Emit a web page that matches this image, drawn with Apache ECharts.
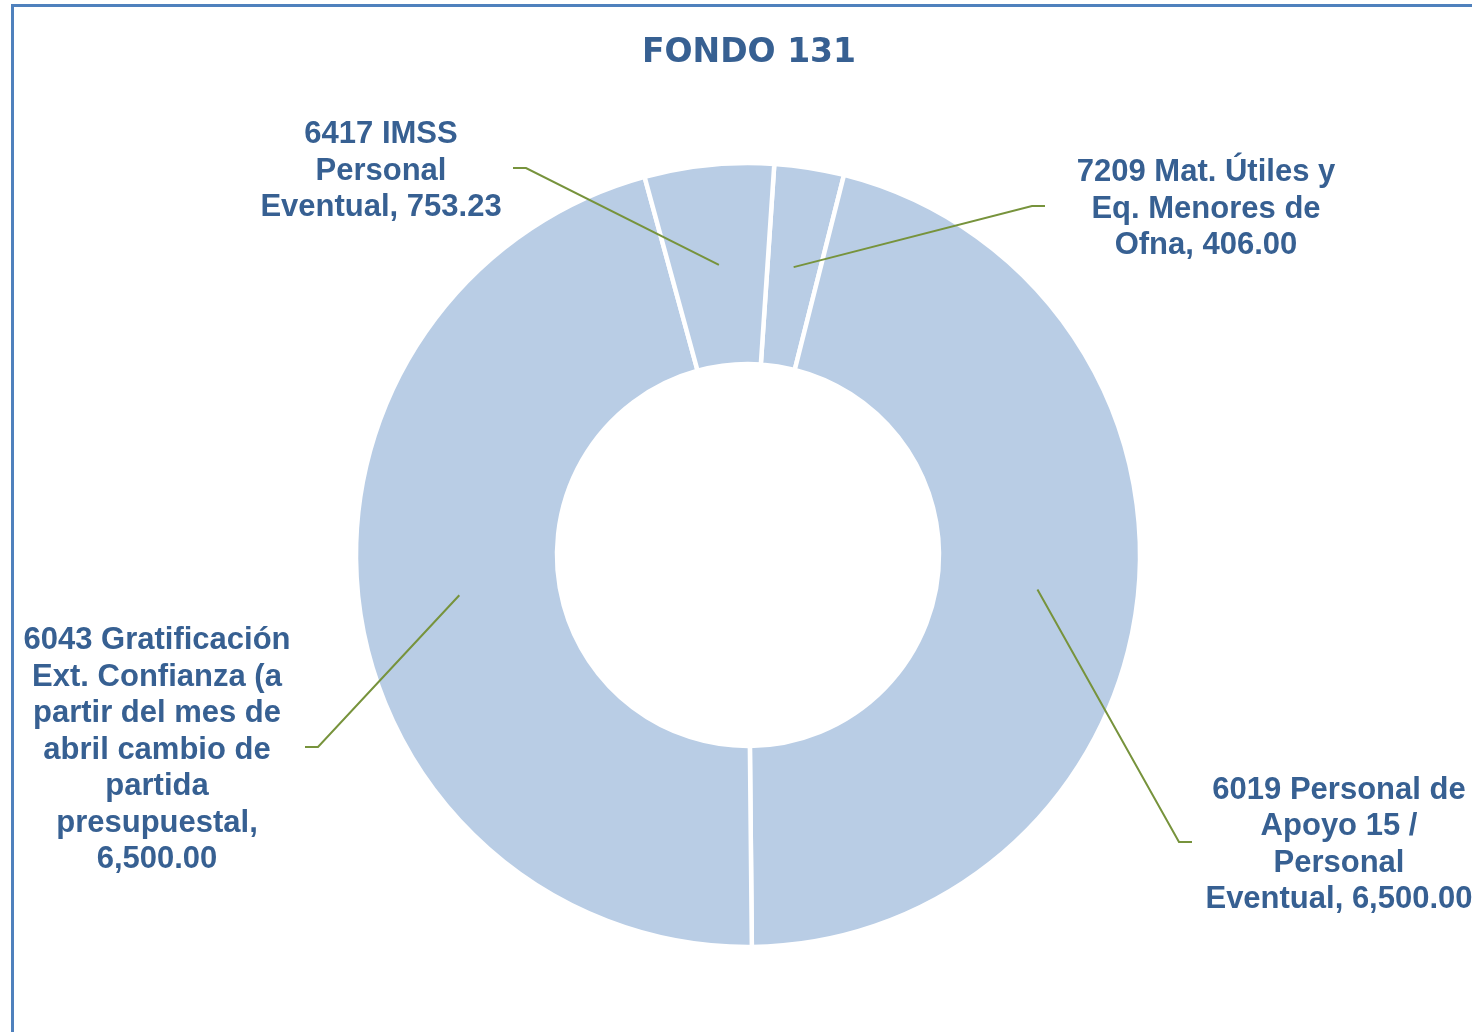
<!DOCTYPE html>
<html>
<head>
<meta charset="utf-8">
<script src="https://cdn.jsdelivr.net/npm/echarts@6/dist/echarts.min.js"></script>
<style>
  html, body { margin: 0; padding: 0; background: #fff; }
  #frame {
    position: absolute; left: 11px; top: 4px; width: 1500px; height: 1100px;
    border-left: 3px solid #4f81bd; border-top: 3px solid #4f81bd;
  }
  #fondo { position: absolute; left: 0; top: 0; width: 1472px; height: 1032px; }
</style>
</head>
<body>
<div id="frame"></div>
<div id="fondo"></div>
<script>
// datos del gráfico (orden de las rebanadas, sentido horario desde arriba)
const categories = [
  '7209 Mat. Útiles y Eq. Menores de Ofna',
  '6019 Personal de Apoyo 15 / Personal Eventual',
  '6043 Gratificación Ext. Confianza (a partir del mes de abril cambio de partida presupuestal',
  '6417 IMSS Personal Eventual'
];
const values = [406.00, 6500.00, 6500.00, 753.23];
const title = 'FONDO 131';

// posicion de cada etiqueta (centro del bloque), ancho de ajuste y distancia a la guia
const labelPos = [
  { x: 1206, y: 209, w: 280, lead: -161 },
  { x: 1339, y: 845, w: 270, lead: -147 },
  { x: 157, y: 750, w: 285, lead: 148 },
  { x: 381, y: 171, w: 265, lead: 132 }
];

const center = [748, 555];
const radius = [191, 392];
const startAngle = 86.15;  // grados, eje de ECharts (90 = arriba)
const textColor = '#376092';
const labelFont = 'bold 31px "Liberation Sans", Arial, sans-serif';

// ajuste de linea por palabras, como lo hace Excel
const measureCtx = document.createElement('canvas').getContext('2d');
measureCtx.font = labelFont;
function wrapText(text, maxWidth) {
  const words = text.split(' ');
  let lines = [];
  let cur = '';
  words.forEach((w) => {
    const test = cur ? cur + ' ' + w : w;
    if (cur && measureCtx.measureText(test).width > maxWidth) {
      lines.push(cur);
      cur = w;
    } else {
      cur = test;
    }
  });
  if (cur) lines.push(cur);
  return lines.join('\n');
}

// angulo medio de cada rebanada (desde arriba, sentido horario)
const total = values.reduce((a, b) => a + b, 0);
let acc = 90 - startAngle;
const midAngles = values.map((v) => {
  const span = v / total * 360;
  const mid = acc + span / 2;
  acc += span;
  return mid;
});

const pieData = categories.map((name, i) => ({ name: name, value: values[i] }));

let chart = echarts.init(document.getElementById('fondo'));
let option = {
  backgroundColor: 'transparent',
  animation: false,
  title: {
    text: title,
    left: 744,
    top: 32,
    textAlign: 'center',
    textStyle: {
      color: textColor,
      fontFamily: 'DejaVu Sans',
      fontWeight: 'bold',
      fontSize: 33
    }
  },
  series: [
    {
      // anillo
      type: 'pie',
      center: center,
      radius: radius,
      startAngle: startAngle,
      clockwise: true,
      silent: true,
      data: pieData,
      itemStyle: {
        color: '#b9cde5',
        borderColor: '#ffffff',
        borderWidth: 4.5
      },
      label: { show: false },
      labelLine: { show: false }
    },
    {
      // etiquetas y guias por encima del anillo
      type: 'pie',
      z: 5,
      center: center,
      radius: radius,
      startAngle: startAngle,
      clockwise: true,
      silent: true,
      avoidLabelOverlap: false,
      data: pieData,
      itemStyle: { color: 'rgba(0,0,0,0)', borderWidth: 0 },
      label: {
        show: true,
        position: 'outside',
        color: textColor,
        fontFamily: '"Liberation Sans", Arial, sans-serif',
        fontWeight: 'bold',
        fontSize: 31,
        lineHeight: 36.5,
        align: 'center',
        formatter: (p) => {
          const txt = p.name + ', ' + p.value.toLocaleString('en-US', { minimumFractionDigits: 2, maximumFractionDigits: 2 });
          return wrapText(txt, labelPos[p.dataIndex].w);
        }
      },
      labelLine: {
        show: true,
        length: 10,
        length2: 12,
        lineStyle: { color: '#77933c', width: 2 }
      },
      labelLayout: (params) => {
        const i = params.dataIndex;
        const pos = labelPos[i];
        // la guia nace en el centro del anillo, al angulo medio de la rebanada
        const a = midAngles[i] * Math.PI / 180;
        const rm = (radius[0] + radius[1]) / 2;
        const p0 = [center[0] + rm * Math.sin(a), center[1] - rm * Math.cos(a)];
        const endX = pos.x + pos.lead;
        const elbowX = endX + (pos.lead < 0 ? -13 : 13);
        const yy = pos.y - 3;
        return {
          x: pos.x,
          y: pos.y,
          align: 'center',
          verticalAlign: 'middle',
          labelLinePoints: [p0, [elbowX, yy], [endX, yy]]
        };
      }
    }
  ]
};
chart.setOption(option);
</script>
</body>
</html>
